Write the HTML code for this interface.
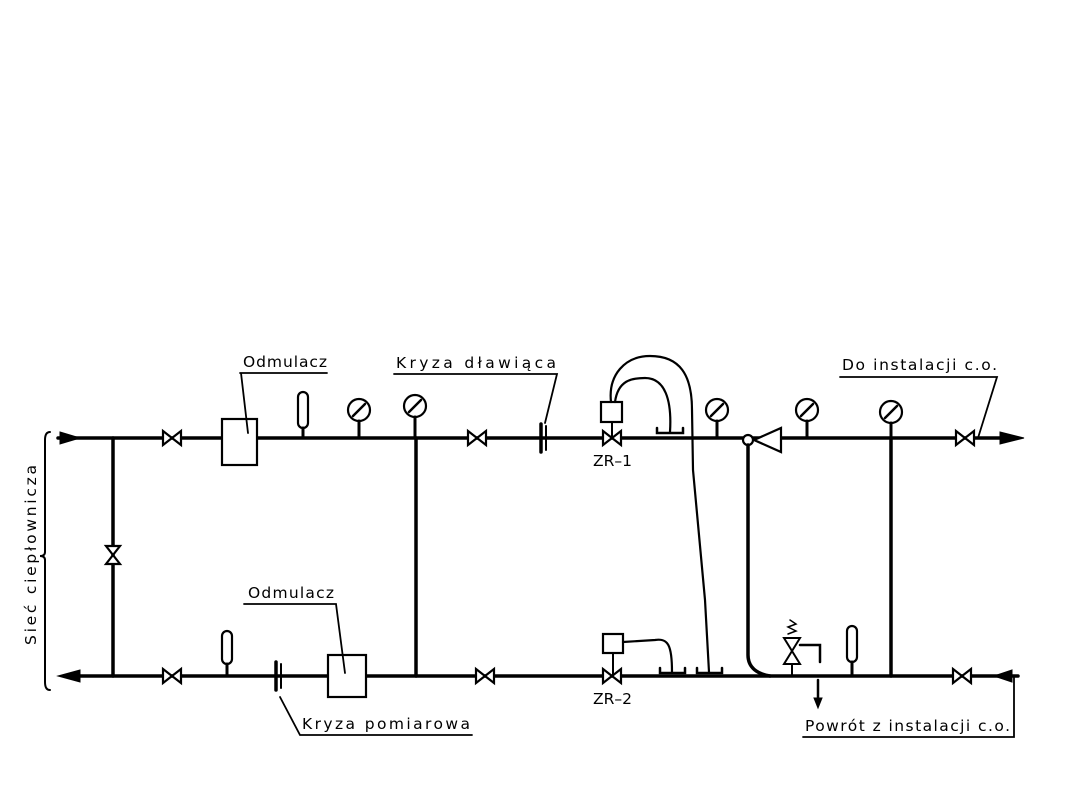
<!DOCTYPE html>
<html><head><meta charset="utf-8"><style>
html,body{margin:0;padding:0;background:#fff;}
svg{display:block;}
text{font-family:"DejaVu Sans","Liberation Sans",sans-serif;font-size:15.5px;fill:#000;}
</style></head><body>
<svg width="1080" height="810" viewBox="0 0 1080 810" xmlns="http://www.w3.org/2000/svg">
<g stroke="#000" fill="none" stroke-width="3" stroke-linecap="round">
<line x1="58" y1="438" x2="1010" y2="438" stroke-width="3.5"/>
<line x1="70" y1="676" x2="1018" y2="676" stroke-width="3.5"/>
<polygon points="60,432 80,438 60,444" fill="#000" stroke-width="1"/>
<polygon points="1000,432 1024,438 1000,444" fill="#000" stroke-width="1"/>
<polygon points="80,670 58,676 80,682" fill="#000" stroke-width="1"/>
<polygon points="1012,670 994,676 1012,682" fill="#000" stroke-width="1"/>
<line x1="113" y1="438" x2="113" y2="676" stroke-width="3.5"/>
<line x1="416" y1="438" x2="416" y2="676" stroke-width="3.5"/>
<line x1="891" y1="440" x2="891" y2="676" stroke-width="3.5"/>
</g>
<g stroke="#000" stroke-width="2.2" fill="#fff">
<polygon points="163,431 163,445 181,431 181,445"/>
<polygon points="468,431 468,445 486,431 486,445"/>
<polygon points="956,431 956,445 974,431 974,445"/>
<polygon points="163,669 163,683 181,669 181,683"/>
<polygon points="476,669 476,683 494,669 494,683"/>
<polygon points="953,669 953,683 971,669 971,683"/>
<polygon points="106,546 120,546 106,564 120,564"/>
<polygon points="603,431 603,445 621,431 621,445"/>
<polygon points="603,669 603,683 621,669 621,683"/>
<rect x="222" y="419" width="35" height="46"/>
<rect x="328" y="655" width="38" height="42"/>
<rect x="601" y="402" width="21" height="20"/>
<rect x="603" y="634" width="20" height="19"/>
<rect x="298" y="392" width="10" height="36" rx="5"/>
<rect x="222" y="631" width="10" height="33" rx="5"/>
<rect x="847" y="626" width="10" height="36" rx="5"/>
<circle cx="359" cy="410" r="11"/>
<circle cx="415" cy="406" r="11"/>
<circle cx="717" cy="410" r="11"/>
<circle cx="807" cy="410" r="11"/>
<circle cx="891" cy="412" r="11"/>
<polygon points="754,440 781,428 781,452"/>
<circle cx="748" cy="440" r="5"/>
</g>
<g stroke="#000" stroke-width="3" fill="none" stroke-linecap="round">
<line x1="359" y1="421" x2="359" y2="438"/><line x1="353" y1="416" x2="365" y2="404" stroke-width="2.5"/>
<line x1="415" y1="417" x2="415" y2="438"/><line x1="409" y1="412" x2="421" y2="400" stroke-width="2.5"/>
<line x1="717" y1="421" x2="717" y2="438"/><line x1="711" y1="416" x2="723" y2="404" stroke-width="2.5"/>
<line x1="807" y1="421" x2="807" y2="438"/><line x1="801" y1="416" x2="813" y2="404" stroke-width="2.5"/>
<line x1="891" y1="423" x2="891" y2="438"/><line x1="885" y1="418" x2="897" y2="406" stroke-width="2.5"/>
<line x1="303" y1="428" x2="303" y2="438"/>
<line x1="227" y1="664" x2="227" y2="676"/>
<line x1="852" y1="662" x2="852" y2="676"/>
<line x1="612" y1="422" x2="612" y2="438" stroke-width="2"/>
<line x1="613" y1="653" x2="613" y2="676" stroke-width="2"/>
<line x1="541" y1="424" x2="541" y2="452" stroke-width="3.5"/><line x1="546" y1="426" x2="546" y2="450" stroke-width="2"/>
<line x1="276" y1="662" x2="276" y2="690" stroke-width="3.5"/><line x1="281" y1="664" x2="281" y2="688" stroke-width="2"/>
<path d="M657,428 L657,433 L683,433 L683,428" stroke-width="2.5"/>
<path d="M660,668 L660,673 L685,673 L685,668" stroke-width="2.5"/>
<path d="M697,668 L697,673 L722,673 L722,668" stroke-width="2.5"/>
<path d="M611,402 C608,375 625,356 650,356 C680,356 692,375 692,410 L693,470 L705,600 L709,672" stroke-width="2.2"/>
<path d="M615,402 C618,380 632,378 645,378 C665,378 672,400 670,432" stroke-width="2.2"/>
<path d="M623,642 L655,640 C668,638 672,645 672,672" stroke-width="2.2"/>
<path d="M748,445 L748,655 C748,668 758,674 770,676" stroke-width="3.5"/>
<path d="M792,676 L792,664 M784,664 L800,664 L792,651 Z M784,638 L800,638 L792,651 Z" stroke-width="2"/>
<path d="M788,634 L796,631 L788,627 L796,624 L790,620" stroke-width="1.5"/>
<path d="M800,645 L820,645 L820,662" stroke-width="2.5"/>
<line x1="818" y1="680" x2="818" y2="700" stroke-width="2.5"/>
<polygon points="814,698 822,698 818,708" fill="#000" stroke-width="1"/>
<path d="M50,432 Q45,432 45,440 L45,552 Q45,556 40,556 Q45,556 45,560 L45,682 Q45,690 50,690" stroke-width="2"/>
<path d="M240,373 L327,373 M241,373 L248,433" stroke-width="1.8"/>
<path d="M394,374 L557,374 L545,423" stroke-width="1.8"/>
<path d="M840,377 L997,377 L978,438" stroke-width="1.8"/>
<path d="M244,604 L336,604 L345,673" stroke-width="1.8"/>
<path d="M280,697 L300,735 L472,735" stroke-width="1.8"/>
<path d="M1014,676 L1014,737 L803,737" stroke-width="1.8"/>
</g>
<text x="243" y="367" textLength="84">Odmulacz</text>
<text x="396" y="368" textLength="160">Kryza dławiąca</text>
<text x="842" y="370" textLength="155">Do instalacji c.o.</text>
<text x="248" y="598" textLength="86">Odmulacz</text>
<text x="302" y="729" textLength="168">Kryza pomiarowa</text>
<text x="805" y="731" textLength="205">Powrót z instalacji c.o.</text>
<text x="593" y="466">ZR–1</text>
<text x="593" y="704">ZR–2</text>
<text transform="translate(36,555) rotate(-90)" text-anchor="middle" textLength="180">Sieć ciepłownicza</text>
</svg>
</body></html>
